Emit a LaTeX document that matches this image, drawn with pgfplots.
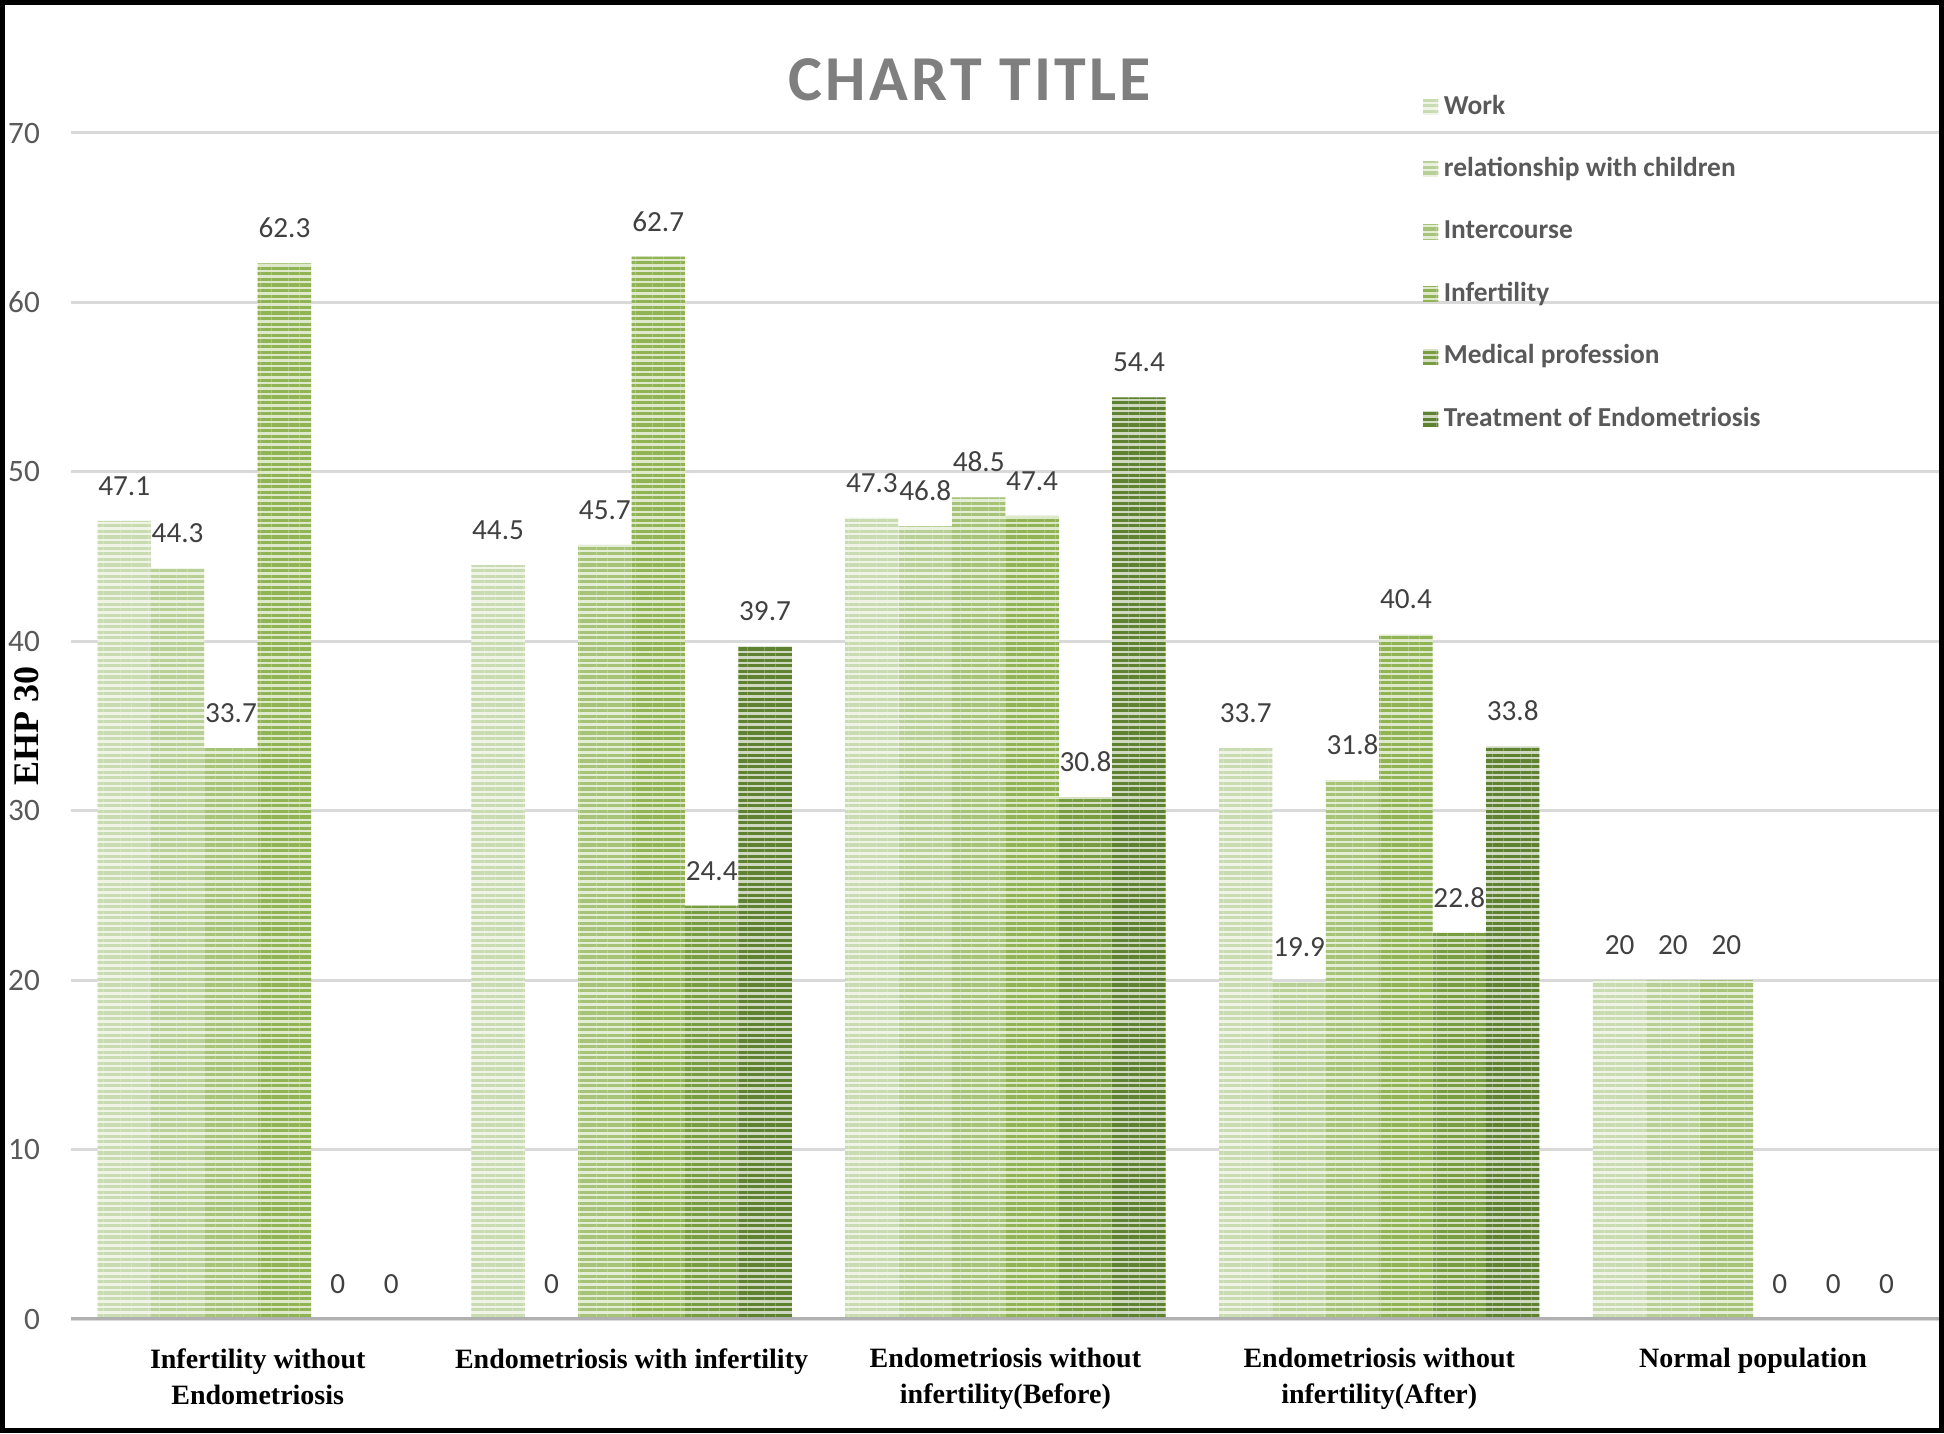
\documentclass[border=0pt]{standalone}
\usepackage{fontspec}
\setmainfont{Carlito}
\newfontfamily\timesf{Liberation Serif}
\newfontfamily\titlef[LetterSpace=5]{Carlito}
\usepackage{pgfplots}
\pgfplotsset{compat=1.18}
\usetikzlibrary{patterns.meta}
\definecolor{c1}{HTML}{C9DBB0}
\definecolor{c2}{HTML}{B8D096}
\definecolor{c3}{HTML}{A6C377}
\definecolor{c4}{HTML}{90B453}
\definecolor{c5}{HTML}{789C40}
\definecolor{c6}{HTML}{5E8230}
\definecolor{txt}{HTML}{595959}
\definecolor{lbl}{HTML}{404040}
\definecolor{gridc}{HTML}{D9D9D9}
\definecolor{basec}{HTML}{B0B0B0}
\definecolor{titlec}{HTML}{7F7F7F}
\pgfplotsset{
  barsty/.style={draw=none, fill=#1!30!white,
    postaction={pattern={Lines[angle=0,distance=1.4pt,line width=0.8pt]}, pattern color=#1},
    legend image code/.code={\path[##1, draw=none] (0pt,-1.9pt) rectangle (3.8pt,1.9pt);}},
}
\begin{document}
\begin{tikzpicture}
\begin{axis}[
  at={(0,0)}, anchor=south west,
  scale only axis, width=467.3pt, height=296.5pt,
  xmin=-0.5, xmax=4.5, ymin=0, ymax=70,
  ybar=0pt, bar width=0.142857,
  xtick={0,1,2,3,4},
  xticklabels={{Infertility without\\Endometriosis},{Endometriosis with infertility},{Endometriosis without\\infertility(Before)},{Endometriosis without\\infertility(After)},{Normal population}},
  xticklabel style={font={\timesf\bfseries\fontsize{7}{9}\selectfont}, align=center, text=black, yshift=-3.8pt},
  ytick={0,10,...,70},
  yticklabel style={font={\fontsize{7.8}{9}\selectfont}, text=txt, xshift=-4.2pt},
  /pgf/number format/assume math mode=true,
  ymajorgrids, grid style={gridc, line width=0.75pt},
  axis line style={draw=none},
  tick style={draw=none}, major tick length=0pt,
  nodes near coords,
  every node near coord/.append style={font={\fontsize{7.3}{9}\selectfont}, text=lbl, anchor=south, yshift=2.8pt},
  legend style={at={(0.723,1.0365)}, anchor=north west, draw=none, fill=none,
    font={\bfseries\fontsize{6.85}{8}\selectfont}, text=txt, inner sep=0pt, row sep=7.4pt,
    nodes={inner sep=0.9pt, text height=5pt, text depth=1.4pt}},
  legend cell align=left,
  /tikz/every odd column/.append style={column sep=0.5pt},
]
\addplot[barsty=c1] coordinates {(0,47.1) (1,44.5) (2,47.3) (3,33.7) (4,20)};
\addplot[barsty=c2] coordinates {(0,44.3) (1,0) (2,46.8) (3,19.9) (4,20)};
\addplot[barsty=c3] coordinates {(0,33.7) (1,45.7) (2,48.5) (3,31.8) (4,20)};
\addplot[barsty=c4] coordinates {(0,62.3) (1,62.7) (2,47.4) (3,40.4) (4,0)};
\addplot[barsty=c5] coordinates {(0,0) (1,24.4) (2,30.8) (3,22.8) (4,0)};
\addplot[barsty=c6] coordinates {(0,0) (1,39.7) (2,54.4) (3,33.8) (4,0)};
\legend{Work, relationship with children, Intercourse, Infertility, Medical profession, Treatment of Endometriosis}
\draw[basec, line width=1.2pt] (axis cs:-0.5,0) -- (axis cs:4.5,0);
\end{axis}
\node[font={\titlef\bfseries\fontsize{16}{18}\selectfont}, text=titlec] at (224.8pt,309.75pt) {CHART TITLE};
\node[font={\timesf\bfseries\fontsize{9}{10}\selectfont}, rotate=90] at (-10.9pt,148.25pt) {EHP 30};
\draw[black, line width=1.25pt] (-17.075pt,-27.875pt) rectangle (467.675pt,329.125pt);
\pgfresetboundingbox
\useasboundingbox (-17.7pt,-28.5pt) rectangle (468.3pt,329.75pt);
\end{tikzpicture}
\end{document}
